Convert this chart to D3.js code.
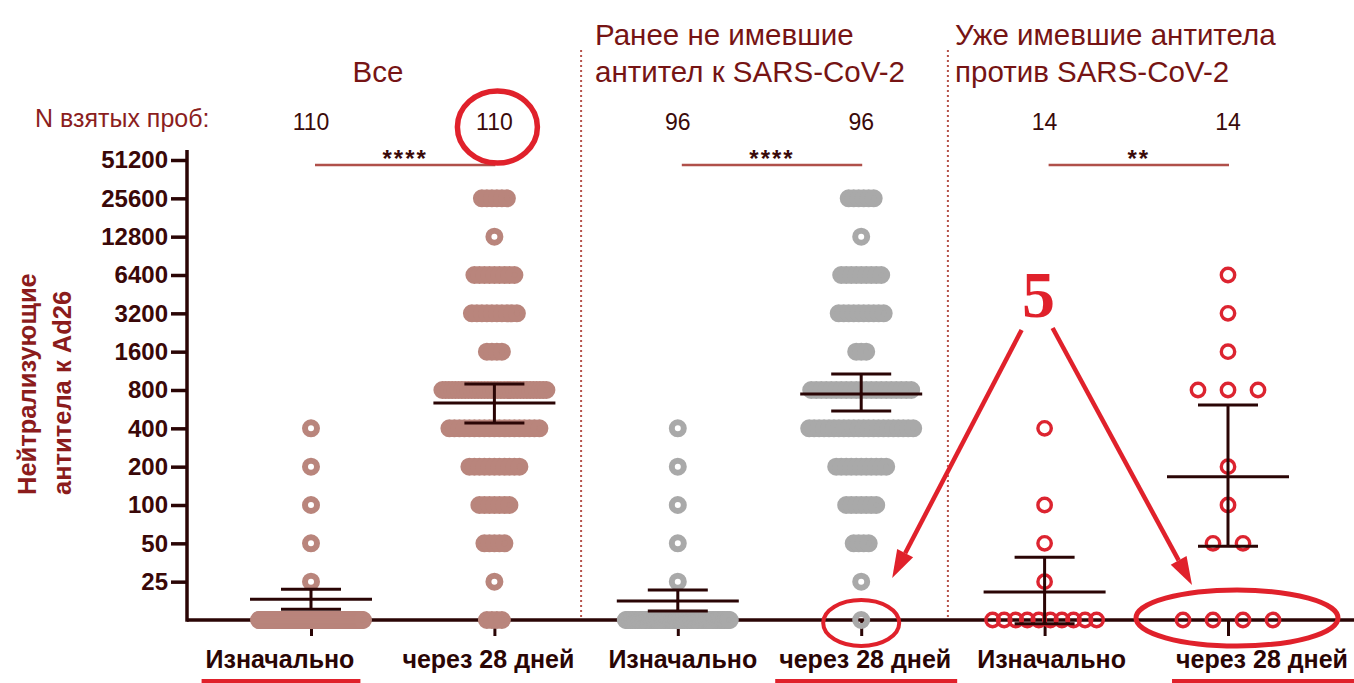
<!DOCTYPE html>
<html>
<head>
<meta charset="utf-8">
<script src="https://cdn.jsdelivr.net/npm/d3@7"></script>
<style>
  body { margin: 0; background: #fff; }
  svg { display: block; font-family: 'Liberation Sans', Arial, sans-serif; }
</style>
</head>
<body>
<div id="chart"></div>
<script>
// titre levels; 12.5 = below detection, drawn on the x axis
const levels = [12.5, 25, 50, 100, 200, 400, 800, 1600, 3200, 6400, 12800, 25600];
const tickValues = [25, 50, 100, 200, 400, 800, 1600, 3200, 6400, 12800, 25600, 51200];

const groupTitles = [
  ['Все'],
  ['Ранее не имевшие', 'антител к SARS-CoV-2'],
  ['Уже имевшие антитела', 'против SARS-CoV-2'],
];
const timepoints = ['Изначально', 'через 28 дней'];
const nSamples = [110, 110, 96, 96, 14, 14];
const sigStars = ['****', '****', '**'];

// samples per titre level (same order as levels)
const allDay0 = [105, 1, 1, 1, 1, 1, 0, 0, 0, 0, 0, 0];
const allDay28 = [4, 1, 5, 7, 11, 19, 33, 4, 10, 9, 1, 6];
const naiveDay0 = [91, 1, 1, 1, 1, 1, 0, 0, 0, 0, 0, 0];
const naiveDay28 = [1, 1, 4, 7, 11, 22, 21, 3, 10, 9, 1, 6];
const seroDay0 = [10, 1, 1, 1, 0, 1, 0, 0, 0, 0, 0, 0];
const seroDay28 = [4, 0, 2, 1, 1, 0, 3, 1, 1, 1, 0, 0];

// geometric mean with 95% CI
const geoMean = [18.2, 633, 17.6, 745, 20.7, 167];
const ciLow = [15.2, 441, 14.7, 548, 11.7, 47.4];
const ciHigh = [21.8, 891, 21.5, 1068, 38.9, 611];

const columns = [allDay0, allDay28, naiveDay0, naiveDay28, seroDay0, seroDay28];

const width = 1354;
const height = 683;
const dark = '#2a0505';
const red = '#e0212b';
const groupColor = ['#b9857c', '#a9a9a9', '#dc2430'];
const dotR = [6, 6, 6.7];
const dotStroke = [6, 6, 3.4];
const dotGap = [5, 5, 30];
const maxSpread = 104;
const labelShift = [-31, -6, 5, 4, 7, 34];

const svg = d3.select('#chart')
    .append('svg')
    .attr('width', width)
    .attr('height', height);

const x = d3.scalePoint()
    .domain(d3.range(columns.length))
    .range([311, 1228]);

const y = d3.scaleLog()
    .base(2)
    .domain([12.5, 51200])
    .range([620, 160]);

const axisX = 187;
const baseY = y(12.5);

// dotted separators between the panels
[1, 2].forEach(function(g) {
  const sx = (x(2 * g - 1) + x(2 * g)) / 2 - 5;
  svg.append('line')
      .attr('x1', sx).attr('x2', sx)
      .attr('y1', 50).attr('y2', baseY)
      .attr('stroke', '#b5524a')
      .attr('stroke-width', 2)
      .attr('stroke-dasharray', '2,3');
});

// titles
const titleX = [378, 595, 955];
const titleAnchor = ['middle', 'start', 'start'];
groupTitles.forEach(function(lines, g) {
  const t = svg.append('text')
      .attr('x', titleX[g])
      .attr('y', lines.length > 1 ? 45 : 82)
      .attr('text-anchor', titleAnchor[g])
      .attr('font-size', 29.5)
      .attr('fill', '#761414');
  lines.forEach(function(line, i) {
    t.append('tspan')
        .attr('x', titleX[g])
        .attr('dy', i ? 37 : 0)
        .text(line);
  });
});

svg.append('text')
    .attr('x', 35)
    .attr('y', 127)
    .attr('font-size', 25)
    .attr('fill', '#8b1e1e')
    .text('N взятых проб:');

svg.selectAll('.n-count')
    .data(nSamples)
    .enter()
    .append('text')
    .attr('class', 'n-count')
    .attr('x', function(d, i) {
      return x(i);
    })
    .attr('y', 130)
    .attr('text-anchor', 'middle')
    .attr('font-size', 23)
    .attr('fill', '#3a0a0a')
    .text(function(d) {
      return d;
    });

// significance bars
sigStars.forEach(function(s, g) {
  const x1 = x(2 * g) + 4;
  const x2 = x(2 * g + 1) + 1;
  svg.append('line')
      .attr('x1', x1).attr('x2', x2)
      .attr('y1', 165).attr('y2', 165)
      .attr('stroke', '#b0504a')
      .attr('stroke-width', 2.5);
  svg.append('text')
      .attr('x', (x1 + x2) / 2)
      .attr('y', 167)
      .attr('text-anchor', 'middle')
      .attr('font-size', 24)
      .attr('font-weight', 'bold')
      .attr('letter-spacing', 2)
      .attr('fill', '#3a0a0a')
      .text(s);
});

// y axis
const yAxis = svg.append('g')
    .attr('transform', 'translate(' + axisX + ',0)')
    .call(d3.axisLeft(y)
        .tickValues(tickValues)
        .tickFormat(d3.format('d'))
        .tickSize(16)
        .tickPadding(3));
yAxis.select('.domain').remove();
yAxis.selectAll('line')
    .attr('stroke', dark)
    .attr('stroke-width', 3.5);
yAxis.selectAll('text')
    .attr('font-size', 24)
    .attr('font-weight', 'bold')
    .attr('font-family', 'Liberation Sans, Arial, sans-serif')
    .attr('fill', '#3a0808');

svg.append('line')
    .attr('x1', axisX).attr('x2', axisX)
    .attr('y1', 150).attr('y2', baseY + 1.75)
    .attr('stroke', dark)
    .attr('stroke-width', 3.5);

// x axis
const xAxis = svg.append('g')
    .attr('transform', 'translate(0,' + baseY + ')')
    .call(d3.axisBottom(x).tickSize(16).tickFormat(''));
xAxis.select('.domain').remove();
xAxis.selectAll('line')
    .attr('stroke', dark)
    .attr('stroke-width', 3);

svg.append('line')
    .attr('x1', axisX).attr('x2', width)
    .attr('y1', baseY).attr('y2', baseY)
    .attr('stroke', dark)
    .attr('stroke-width', 3.5);

const xLabels = svg.selectAll('.x-label')
    .data(d3.range(columns.length))
    .enter()
    .append('text')
    .attr('class', 'x-label')
    .attr('x', function(d) {
      return x(d) + labelShift[d];
    })
    .attr('y', 668)
    .attr('text-anchor', 'middle')
    .attr('font-size', 25)
    .attr('font-weight', 'bold')
    .attr('fill', dark)
    .text(function(d) {
      return timepoints[d % 2];
    });

// y title
const yTitle = svg.append('text')
    .attr('transform', 'rotate(-90)')
    .attr('font-size', 25.5)
    .attr('font-weight', 'bold')
    .attr('fill', '#8b1c1c');
yTitle.append('tspan').attr('x', -495).attr('y', 36).text('Нейтрализующие');
yTitle.append('tspan').attr('x', -495).attr('y', 71).text('антитела к Ad26');

// points, spread sideways like a scatter dot plot
const points = [];
columns.forEach(function(counts, c) {
  const g = Math.floor(c / 2);
  counts.forEach(function(n, i) {
    if (!n) return;
    const step = n > 1 ? Math.min(dotGap[g], maxSpread / (n - 1)) : 0;
    for (let k = 0; k < n; k++) {
      points.push({col: c, group: g, value: levels[i], dx: (k - (n - 1) / 2) * step});
    }
  });
});

svg.append('g')
    .selectAll('circle')
    .data(points)
    .enter()
    .append('circle')
    .attr('cx', function(d) {
      return x(d.col) + d.dx;
    })
    .attr('cy', function(d) {
      return y(d.value);
    })
    .attr('r', function(d) {
      return dotR[d.group];
    })
    .attr('fill', 'none')
    .attr('stroke', function(d) {
      return groupColor[d.group];
    })
    .attr('stroke-width', function(d) {
      return dotStroke[d.group];
    });

// geometric mean and CI
const bars = svg.append('g')
    .attr('stroke', dark)
    .attr('stroke-width', 3);
geoMean.forEach(function(m, c) {
  const cx = x(c);
  bars.append('line')
      .attr('x1', cx).attr('x2', cx)
      .attr('y1', y(ciLow[c])).attr('y2', y(ciHigh[c]));
  [ciLow[c], ciHigh[c]].forEach(function(v) {
    bars.append('line')
        .attr('x1', cx - 30).attr('x2', cx + 30)
        .attr('y1', y(v)).attr('y2', y(v));
  });
  bars.append('line')
      .attr('x1', cx - 61).attr('x2', cx + 61)
      .attr('y1', y(m)).attr('y2', y(m));
});

// red hand annotations
const notes = svg.append('g')
    .attr('fill', 'none')
    .attr('stroke', red)
    .attr('stroke-width', 5);

notes.append('ellipse')
    .attr('cx', x(1) + 3).attr('cy', 127)
    .attr('rx', 40).attr('ry', 36)
    .attr('stroke-width', 5.5);
notes.append('ellipse')
    .attr('cx', x(3)).attr('cy', baseY + 3)
    .attr('rx', 38).attr('ry', 23)
    .attr('stroke-width', 4);
notes.append('ellipse')
    .attr('cx', x(5) + 9).attr('cy', baseY - 2)
    .attr('rx', 101).attr('ry', 28);

xLabels.each(function(d) {
  if ([0, 3, 5].indexOf(d) < 0) return;
  const w = this.getComputedTextLength();
  const cx = x(d) + labelShift[d];
  notes.append('line')
      .attr('x1', cx - w / 2 - 4).attr('x2', cx + w / 2 + 6)
      .attr('y1', 686).attr('y2', 686)
      .attr('stroke-width', 14);
});

const fiveX = x(4) - 6;
svg.append('text')
    .attr('x', fiveX)
    .attr('y', 317)
    .attr('text-anchor', 'middle')
    .attr('font-family', 'Liberation Serif, Times New Roman, serif')
    .attr('font-weight', 'bold')
    .attr('font-size', 66)
    .attr('fill', red)
    .text('5');

const arrows = [
  {x1: fiveX - 17, y1: 330, x2: x(3) + 31, y2: baseY - 42},
  {x1: fiveX + 14, y1: 328, x2: x(5) - 36, y2: baseY - 35},
];
arrows.forEach(function(a) {
  const ang = Math.atan2(a.y2 - a.y1, a.x2 - a.x1);
  const len = 28;
  const half = 9;
  const bx = a.x2 - len * Math.cos(ang);
  const by = a.y2 - len * Math.sin(ang);
  svg.append('line')
      .attr('x1', a.x1).attr('y1', a.y1)
      .attr('x2', bx).attr('y2', by)
      .attr('stroke', red)
      .attr('stroke-width', 4.5);
  svg.append('path')
      .attr('d', 'M' + a.x2 + ',' + a.y2 +
        'L' + (bx + half * Math.sin(ang)) + ',' + (by - half * Math.cos(ang)) +
        'L' + (bx - half * Math.sin(ang)) + ',' + (by + half * Math.cos(ang)) + 'Z')
      .attr('fill', red);
});
</script>
</body>
</html>
